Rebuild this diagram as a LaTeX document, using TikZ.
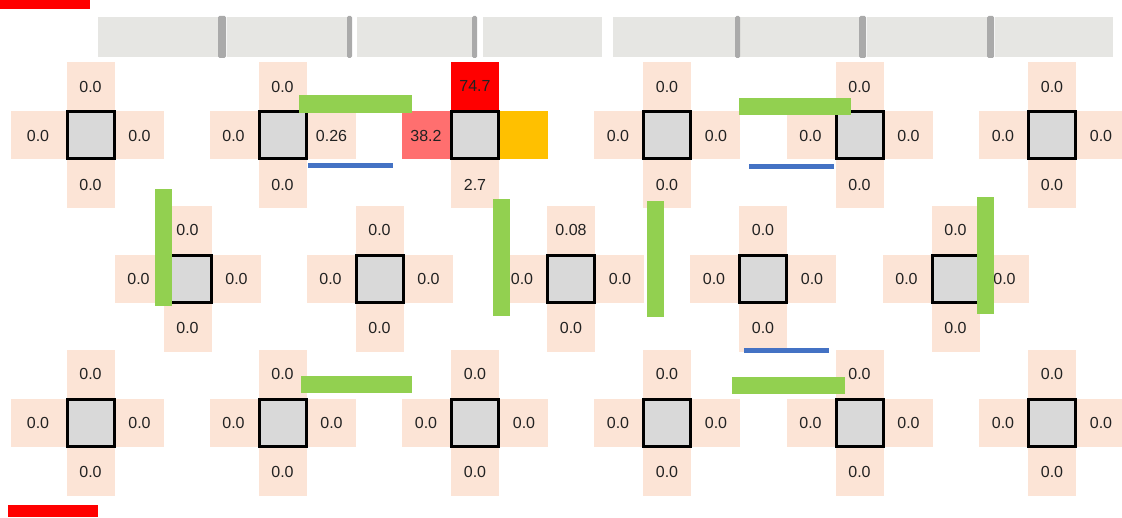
\documentclass[tikz,border=0pt]{standalone}
\usepackage{fontspec}
\setmainfont{Liberation Sans}
\definecolor{peach}{HTML}{FCE4D6}
\definecolor{sqgray}{HTML}{D9D9D9}
\definecolor{grn}{HTML}{92D050}
\definecolor{blu}{HTML}{4472C4}
\definecolor{barcol}{HTML}{E6E6E3}
\definecolor{sepcol}{HTML}{AAAAAA}
\definecolor{salmon}{HTML}{FF6F6F}
\definecolor{amber}{HTML}{FFC000}
\definecolor{redc}{HTML}{FF0000}
\definecolor{txt}{HTML}{222222}
\tikzset{
  cellbox/.style={fill=peach, draw=none, minimum width=48pt, minimum height=48pt,
    inner sep=0pt, font=\fontsize{16}{18}\selectfont, text=txt},
  sqbox/.style={fill=sqgray, draw=black, line width=3pt, minimum size=47pt, inner sep=0pt},
  topbar/.style={fill=barcol},
  sepbar/.style={fill=sepcol, rounded corners=1.5pt},
  greenbar/.style={fill=grn},
  bluebar/.style={fill=blu},
  redbar/.style={fill=redc}
}
% #1 extra options for left cell, #2 name, #3 cx, #4 cy, #5 top, #6 left, #7 right, #8 bottom
\newcommand\mkcross[8][]{%
  \node[cellbox] (#2t) at (#3,#4-49) {#5};
  \node[cellbox,#1] (#2l) at (#3-49,#4) {#6};
  \node[cellbox] (#2r) at (#3+49,#4) {#7};
  \node[cellbox] (#2b) at (#3,#4+49) {#8};
  \node[sqbox] (#2) at (#3,#4) {};
}
\begin{document}
\begin{tikzpicture}[x=1pt,y=-1pt]
\useasboundingbox (0,0) rectangle (1122,518);
% red bars
\fill[redbar] (0,0) rectangle (90,9);
\fill[redbar] (8,505) rectangle (98,517);
% top gray bars
\fill[topbar] (98,17) rectangle (219,57);
\fill[topbar] (227,17) rectangle (348,57);
\fill[topbar] (357,17) rectangle (473,57);
\fill[topbar] (483,17) rectangle (602,57);
\fill[topbar] (613,17) rectangle (736,57);
\fill[topbar] (739,17) rectangle (860,57);
\fill[topbar] (867,17) rectangle (988,57);
\fill[topbar] (995,17) rectangle (1113,57);
\fill[sepbar] (218,16) rectangle (226,58);
\fill[sepbar] (347,16) rectangle (352,58);
\fill[sepbar] (472,16) rectangle (477,58);
\fill[sepbar] (735,16) rectangle (740,58);
\fill[sepbar] (859,16) rectangle (866,58);
\fill[sepbar] (987,16) rectangle (994,58);
% row 1
\mkcross[minimum width=55pt,xshift=-3.5pt]{a1}{90.5}{135.5}{0.0}{0.0}{0.0}{0.0}
\mkcross{a2}{282.5}{135.5}{0.0}{0.0}{0.26}{0.0}
\node[cellbox,fill=redc] (a3t) at (475,86.5) {74.7};
\node[cellbox,fill=salmon] (a3l) at (426,135.5) {38.2};
\node[cellbox,fill=amber] (a3r) at (524,135.5) {};
\node[cellbox] (a3b) at (475,184.5) {2.7};
\node[sqbox] (a3) at (475,135.5) {};
\mkcross{a4}{667}{135.5}{0.0}{0.0}{0.0}{0.0}
\mkcross{a5}{859.5}{135.5}{0.0}{0.0}{0.0}{0.0}
\mkcross{a6}{1052}{135.5}{0.0}{0.0}{0.0}{0.0}
% row 2
\mkcross{b1}{187.5}{279}{0.0}{0.0}{0.0}{0.0}
\mkcross{b2}{379.5}{279}{0.0}{0.0}{0.0}{0.0}
\mkcross{b3}{571}{279}{0.08}{0.0}{0.0}{0.0}
\mkcross{b4}{763}{279}{0.0}{0.0}{0.0}{0.0}
\mkcross{b5}{955.5}{279}{0.0}{0.0}{0.0}{0.0}
% row 3
\mkcross[minimum width=55pt,xshift=-3.5pt]{c1}{90.5}{423}{0.0}{0.0}{0.0}{0.0}
\mkcross{c2}{282.5}{423}{0.0}{0.0}{0.0}{0.0}
\mkcross{c3}{475}{423}{0.0}{0.0}{0.0}{0.0}
\mkcross{c4}{667}{423}{0.0}{0.0}{0.0}{0.0}
\mkcross{c5}{859.5}{423}{0.0}{0.0}{0.0}{0.0}
\mkcross{c6}{1052}{423}{0.0}{0.0}{0.0}{0.0}
% green bars
\fill[greenbar] (299,95) rectangle (412,113);
\fill[greenbar] (739,98) rectangle (851,115);
\fill[greenbar] (301,376) rectangle (412,393);
\fill[greenbar] (732,377) rectangle (845,394);
\fill[greenbar] (155,189) rectangle (172,306);
\fill[greenbar] (493,199) rectangle (510,316);
\fill[greenbar] (647,201) rectangle (664,317);
\fill[greenbar] (977,197) rectangle (994,314);
% blue bars
\fill[bluebar] (308,163) rectangle (393,168);
\fill[bluebar] (749,164) rectangle (834,169);
\fill[bluebar] (744,348) rectangle (829,353);
\end{tikzpicture}
\end{document}
